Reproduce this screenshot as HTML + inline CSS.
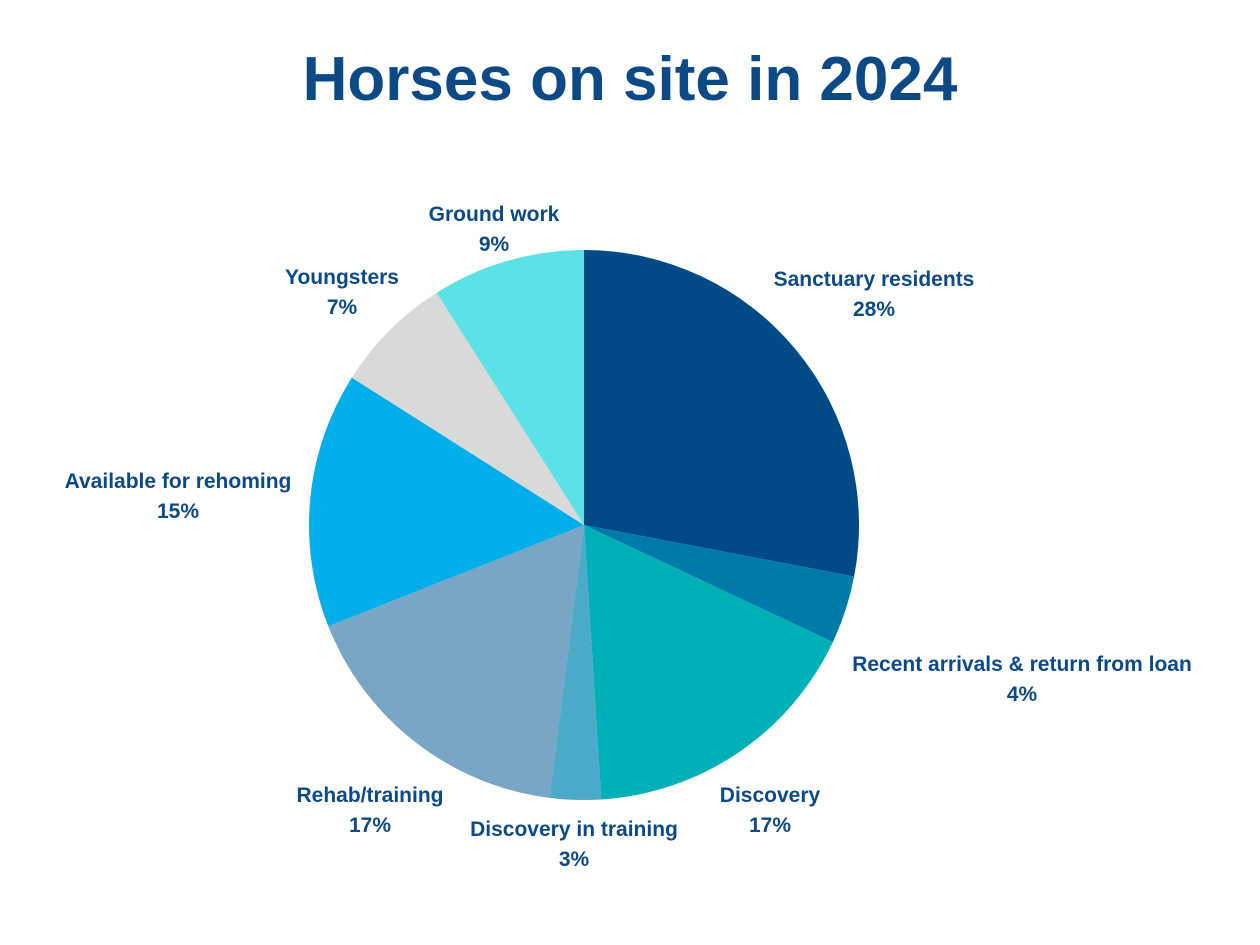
<!DOCTYPE html>
<html><head><meta charset="utf-8"><style>
html,body{margin:0;padding:0;background:#fff;}
svg{display:block;font-family:"Liberation Sans",sans-serif;}
</style></head><body>
<svg id="chart" width="1260" height="945" viewBox="0 0 1260 945">
<text x="630" y="100" text-anchor="middle" font-size="62" font-weight="bold" fill="#0b4a85">Horses on site in 2024</text>
<g id="slices"></g>
<g id="labels"></g>
</svg>
<script>
const categories = ["Sanctuary residents","Recent arrivals & return from loan","Discovery","Discovery in training","Rehab/training","Available for rehoming","Youngsters","Ground work"];
const values = [28,4,17,3,17,15,7,9];
const colors = ["#004a86","#007ba7","#00b0b9","#4aaac8","#78a6c6","#00afe9","#d9d9d9","#5ce1e6"];
const labelPos = [[874,286],[1022,671],[770,802],[574,836],[370,802],[178,488],[342,284],[494,221]];
const cx=584, cy=525, r=275;
const NS="http://www.w3.org/2000/svg";
const total=values.reduce((a,b)=>a+b,0);
const sg=document.getElementById('slices'), lg=document.getElementById('labels');
function pt(a){return [cx+r*Math.sin(a), cy-r*Math.cos(a)];}
let acc=0;
values.forEach((v,i)=>{
  const a0=acc/total*2*Math.PI; acc+=v; const a1=acc/total*2*Math.PI;
  const p0=pt(a0), p1=pt(a1);
  const p=document.createElementNS(NS,'path');
  p.setAttribute('d',`M${cx},${cy}L${p0[0]},${p0[1]}A${r},${r} 0 ${a1-a0>Math.PI?1:0} 1 ${p1[0]},${p1[1]}Z`);
  p.setAttribute('fill',colors[i]);
  
  
  sg.appendChild(p);
  const t=document.createElementNS(NS,'text');
  t.setAttribute('text-anchor','middle');
  t.setAttribute('font-size','21');
  t.setAttribute('font-weight','bold');
  t.setAttribute('fill','#0b4a85');
  
  
  const [lx,ly]=labelPos[i];
  const s1=document.createElementNS(NS,'tspan'); s1.setAttribute('x',lx); s1.setAttribute('y',ly); s1.textContent=categories[i];
  const s2=document.createElementNS(NS,'tspan'); s2.setAttribute('x',lx); s2.setAttribute('y',ly+30); s2.textContent=v+'%';
  t.appendChild(s1); t.appendChild(s2);
  lg.appendChild(t);
});
</script>
</body></html>
